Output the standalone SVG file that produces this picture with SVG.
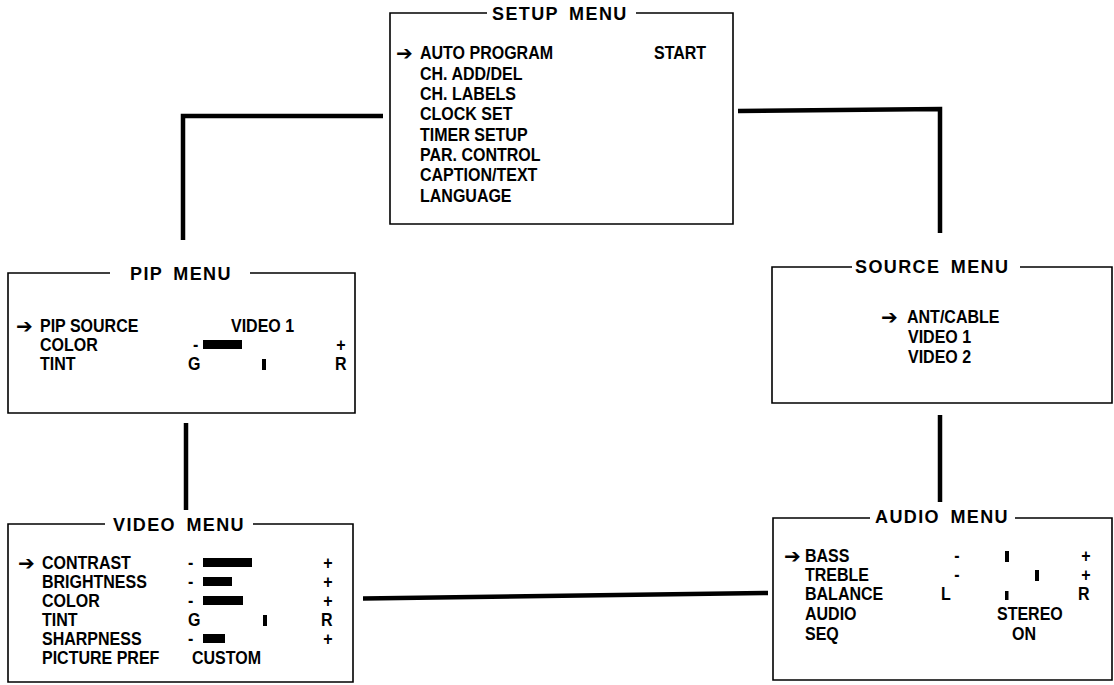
<svg xmlns="http://www.w3.org/2000/svg" width="1114" height="685" viewBox="0 0 1114 685">
<style>
.bg{fill:#fff}
.box{fill:none;stroke:#000;stroke-width:1.6}
.conn{fill:none;stroke:#000;stroke-width:4.5;stroke-linejoin:miter}
.t{font-family:"Liberation Sans",Arial,sans-serif;font-weight:bold;font-size:18px;fill:#000}
.ttl{font-family:"Liberation Sans",Arial,sans-serif;font-weight:bold;font-size:18px;letter-spacing:1.4px;word-spacing:4px;fill:#000}
.arr{font-family:"DejaVu Sans",sans-serif;font-size:20px;fill:#000}
.c{text-anchor:middle}
.bar{fill:#000}
</style>
<rect class="bg" width="1114" height="685"/>

<g id="connectors">
<path class="conn" d="M383,116 H183 V240"/>
<path class="conn" d="M738,111 L940,109 V233"/>
<path class="conn" d="M186,423 V510"/>
<path class="conn" d="M940,415 V502"/>
<path class="conn" d="M363,598.5 L768,593"/>
</g>

<g id="setup-menu">
<path class="box" d="M487,13 H390 V224 H733 V13 H636"/>
<text class="ttl" x="492" y="20">SETUP MENU</text>
<text class="arr" x="396" y="59.5">➔</text>
<text class="t" transform="translate(420 59) scale(.89 1)">AUTO PROGRAM</text>
<text class="t" transform="translate(654 59) scale(.89 1)">START</text>
<text class="t" transform="translate(420 79.5) scale(.89 1)">CH. ADD/DEL</text>
<text class="t" transform="translate(420 100) scale(.89 1)">CH. LABELS</text>
<text class="t" transform="translate(420 120) scale(.89 1)">CLOCK SET</text>
<text class="t" transform="translate(420 140.5) scale(.89 1)">TIMER SETUP</text>
<text class="t" transform="translate(420 161) scale(.89 1)">PAR. CONTROL</text>
<text class="t" transform="translate(420 181) scale(.89 1)">CAPTION/TEXT</text>
<text class="t" transform="translate(420 201.5) scale(.89 1)">LANGUAGE</text>
</g>

<g id="pip-menu">
<path class="box" d="M110,273 H8 V413 H355 V273 H250"/>
<text class="ttl" x="130" y="280">PIP MENU</text>
<text class="arr" x="16" y="332.5">➔</text>
<text class="t" transform="translate(40 332) scale(.89 1)">PIP SOURCE</text>
<text class="t" transform="translate(231 332) scale(.89 1)">VIDEO 1</text>
<text class="t" transform="translate(40 351) scale(.89 1)">COLOR</text>
<text class="t" transform="translate(193 351) scale(.89 1)">-</text>
<rect class="bar" x="203" y="340" width="39" height="9"/>
<text class="t c" transform="translate(341 351) scale(.89 1)">+</text>
<text class="t" transform="translate(40 370) scale(.89 1)">TINT</text>
<text class="t" transform="translate(188 370) scale(.89 1)">G</text>
<rect class="bar" x="262" y="359" width="4" height="11"/>
<text class="t" transform="translate(335 370) scale(.89 1)">R</text>
</g>

<g id="video-menu">
<path class="box" d="M105,524 H8 V682 H353 V524 H253"/>
<text class="ttl" x="113" y="531">VIDEO MENU</text>
<text class="arr" x="18" y="569.5">➔</text>
<text class="t" transform="translate(42 569) scale(.89 1)">CONTRAST</text>
<text class="t" transform="translate(188 569) scale(.89 1)">-</text>
<rect class="bar" x="203" y="558" width="49" height="9"/>
<text class="t c" transform="translate(328 569) scale(.89 1)">+</text>
<text class="t" transform="translate(42 588) scale(.89 1)">BRIGHTNESS</text>
<text class="t" transform="translate(188 588) scale(.89 1)">-</text>
<rect class="bar" x="203" y="577" width="29" height="9"/>
<text class="t c" transform="translate(328 588) scale(.89 1)">+</text>
<text class="t" transform="translate(42 607) scale(.89 1)">COLOR</text>
<text class="t" transform="translate(188 607) scale(.89 1)">-</text>
<rect class="bar" x="203" y="596" width="40" height="9"/>
<text class="t c" transform="translate(328 607) scale(.89 1)">+</text>
<text class="t" transform="translate(42 626) scale(.89 1)">TINT</text>
<text class="t" transform="translate(188 626) scale(.89 1)">G</text>
<rect class="bar" x="263" y="615" width="4" height="11"/>
<text class="t" transform="translate(321 626) scale(.89 1)">R</text>
<text class="t" transform="translate(42 645) scale(.89 1)">SHARPNESS</text>
<text class="t" transform="translate(188 645) scale(.89 1)">-</text>
<rect class="bar" x="203" y="634" width="22" height="9"/>
<text class="t c" transform="translate(328 645) scale(.89 1)">+</text>
<text class="t" transform="translate(42 664) scale(.89 1)">PICTURE PREF</text>
<text class="t" transform="translate(192 664) scale(.89 1)">CUSTOM</text>
</g>

<g id="source-menu">
<path class="box" d="M852,267 H772 V403 H1112 V267 H1020"/>
<text class="ttl" x="855" y="273">SOURCE MENU</text>
<text class="arr" x="881" y="323.5">➔</text>
<text class="t" transform="translate(907 323) scale(.89 1)">ANT/CABLE</text>
<text class="t" transform="translate(908 343) scale(.89 1)">VIDEO 1</text>
<text class="t" transform="translate(908 363) scale(.89 1)">VIDEO 2</text>
</g>

<g id="audio-menu">
<path class="box" d="M870,518 H773 V680 H1112 V518 H1015"/>
<text class="ttl" x="875" y="523">AUDIO MENU</text>
<text class="arr" x="784" y="562.5">➔</text>
<text class="t" transform="translate(805 562) scale(.89 1)">BASS</text>
<text class="t c" transform="translate(957 562) scale(.89 1)">-</text>
<rect class="bar" x="1005" y="551" width="4" height="11"/>
<text class="t c" transform="translate(1086 562) scale(.89 1)">+</text>
<text class="t" transform="translate(805 581) scale(.89 1)">TREBLE</text>
<text class="t c" transform="translate(957 581) scale(.89 1)">-</text>
<rect class="bar" x="1035" y="570" width="4" height="11"/>
<text class="t c" transform="translate(1086 581) scale(.89 1)">+</text>
<text class="t" transform="translate(805 600) scale(.89 1)">BALANCE</text>
<text class="t" transform="translate(941 600) scale(.89 1)">L</text>
<rect class="bar" x="1005" y="591" width="3.5" height="9"/>
<text class="t" transform="translate(1078 600) scale(.89 1)">R</text>
<text class="t" transform="translate(805 620) scale(.89 1)">AUDIO</text>
<text class="t" transform="translate(997 620) scale(.89 1)">STEREO</text>
<text class="t" transform="translate(805 640) scale(.89 1)">SEQ</text>
<text class="t" transform="translate(1012 640) scale(.89 1)">ON</text>
</g>
</svg>
